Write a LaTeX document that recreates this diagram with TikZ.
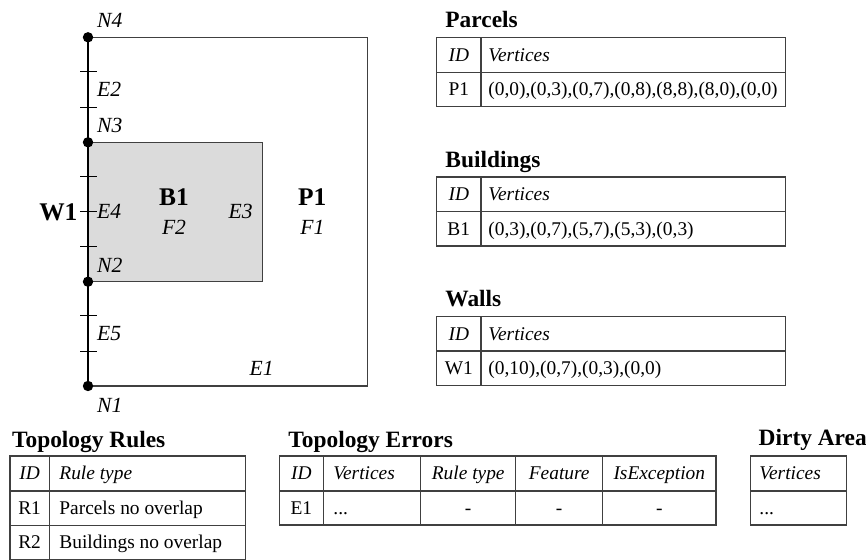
\documentclass[tikz,border=0pt]{standalone}
\usepackage{fontspec}
\setmainfont{Liberation Serif}
\tikzset{
  lbl/.style={font=\fontsize{10.8}{13}\selectfont\itshape, inner sep=0pt, text height=7.1pt, text depth=0pt},
  big/.style={font=\fontsize{12.7}{15}\selectfont\bfseries, inner sep=1pt, text height=8.4pt, text depth=0pt},
  ttl/.style={font=\fontsize{11.7}{14}\selectfont\bfseries, inner sep=0pt, anchor=west, text height=7.7pt, text depth=0pt},
  cell/.style={font=\fontsize{9.7}{12}\selectfont, inner sep=0pt, text height=6.4pt, text depth=0pt},
  hcell/.style={cell, font=\fontsize{9.7}{12}\selectfont\itshape},
  grid/.style={draw=black!75, line width=0.6pt},
  dot/.style={circle, fill=black, inner sep=0pt, minimum size=5.2pt},
  wall/.style={line width=1pt},
  tick/.style={line width=0.5pt}
}
\begin{document}
\begin{tikzpicture}[x=0.5pt, y=-0.5pt]
  \useasboundingbox (0,0) rectangle (866,560);

  % parcel P1 and building B1
  \draw[grid] (88,37.3) rectangle (367.3,386);
  \filldraw[grid, fill=black!14] (88,142.3) rectangle (262.7,281.7);

  % wall W1 with its nodes
  \node[dot] (n4) at (88,37.3) {};
  \node[dot] (n3) at (88,142.3) {};
  \node[dot] (n2) at (88,281.7) {};
  \node[dot] (n1) at (88,386) {};
  \draw[wall] (n4.center) -- (n1.center);
  \foreach \y in {71.7,107.3,176.7,246.7,316,351.3}
    \draw[tick] (80,\y) -- (97,\y);
  \coordinate (t4) at (97,211.7);
  \node[big] (w1) at (58.3,211.7) {W1};
  \draw[tick] (w1) -- (t4);

  \foreach \n/\y in {N4/20.7, E2/89.3, N3/125, E4/211.7, N2/265, E5/333, N1/405}
    \node[lbl, anchor=west] (l\n) at (96.7,\y) {\n};
  \node[lbl] (le3) at (240.7,211.7) {E3};
  \node[lbl] (le1) at (261.7,368.3) {E1};
  \node[big] (b1) at (174,197.3) {B1};
  \node[lbl] (f2) at (174,227.7) {F2};
  \node[big] (p1) at (312.3,197.3) {P1};
  \node[lbl] (f1) at (312.3,227.7) {F1};

  % feature tables
  \foreach \t/\y/\id/\vert in {Parcels/37.7/P1/{(0,0),(0,3),(0,7),(0,8),(8,8),(8,0),(0,0)},
      Buildings/177/B1/{(0,3),(0,7),(5,7),(5,3),(0,3)},
      Walls/316.5/W1/{(0,10),(0,7),(0,3),(0,0)}} {
    \node[ttl] (t\t) at (445,\y-17.5) {\t};
    \draw[grid] (436.7,\y) rectangle (785.7,\y+69);
    \draw[grid] (436.7,\y+34.5) -- (785.7,\y+34.5);
    \draw[grid] (481,\y) -- (481,\y+69);
    \node[hcell] (hid\t) at (458.8,\y+17.2) {ID};
    \node[hcell, anchor=west] (hv\t) at (488,\y+17.2) {Vertices};
    \node[cell] (id\t) at (458.8,\y+51.7) {\id};
    \node[cell, anchor=west] (v\t) at (488,\y+51.7) {\vert};
  }

  % topology rules
  \node[ttl] (trules) at (11.7,440) {Topology Rules};
  \draw[grid] (10,456) rectangle (245.7,559.5);
  \foreach \y in {491,525.5}
    \draw[grid] (10,\y) -- (245.7,\y);
  \draw[grid] (49.3,456) -- (49.3,559.5);
  \node[hcell] (rid) at (29.6,473.5) {ID};
  \node[hcell, anchor=west] (rtype) at (59,473.5) {Rule type};
  \node[cell] (r1) at (29.6,508.3) {R1};
  \node[cell, anchor=west] (r1t) at (59,508.3) {Parcels no overlap};
  \node[cell] (r2) at (29.6,542.5) {R2};
  \node[cell, anchor=west] (r2t) at (59,542.5) {Buildings no overlap};

  % topology errors
  \node[ttl] (terrors) at (288,440) {Topology Errors};
  \draw[grid] (279.3,456) rectangle (716,525);
  \draw[grid] (279.3,491) -- (716,491);
  \foreach \x in {323.3,420.7,515.7,602.7}
    \draw[grid] (\x,456) -- (\x,525);
  \node[hcell] (eid) at (301.3,473.5) {ID};
  \node[hcell, anchor=west] (ev) at (333,473.5) {Vertices};
  \node[hcell] (er) at (468.2,473.5) {Rule type};
  \node[hcell] (ef) at (559.2,473.5) {Feature};
  \node[hcell] (ex) at (659.3,473.5) {IsException};
  \node[cell] (e1) at (301.3,508) {E1};
  \node[cell, anchor=west] (e1v) at (333,508) {...};
  \foreach \x/\c in {468.2/r, 559.2/f, 659.3/x}
    \node[cell] (e1\c) at (\x,508) {-};

  % dirty area
  \node[ttl] (tdirty) at (758.3,438) {Dirty Area};
  \draw[grid] (750.7,456) rectangle (846.7,525);
  \draw[grid] (750.7,491) -- (846.7,491);
  \node[hcell, anchor=west] (dv) at (759,473.5) {Vertices};
  \node[cell, anchor=west] (d1) at (759,508) {...};
\end{tikzpicture}
\end{document}
